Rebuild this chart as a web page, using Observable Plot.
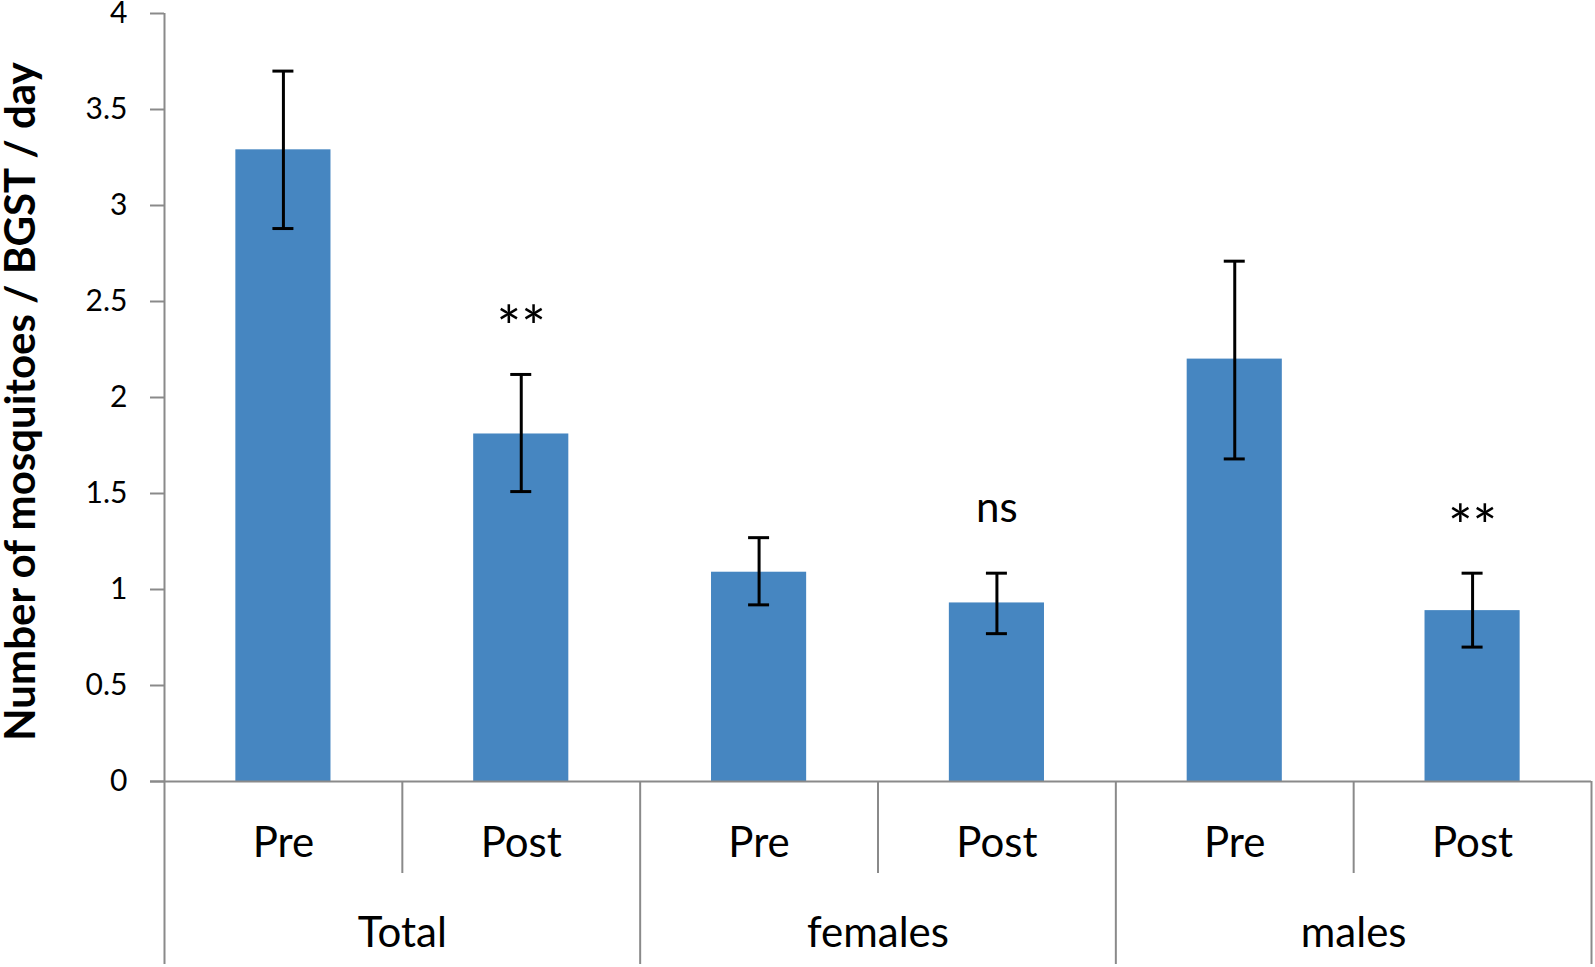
<!DOCTYPE html>
<html>
<head>
<meta charset="utf-8">
<script src="https://cdn.jsdelivr.net/npm/d3@7"></script>
<script src="https://cdn.jsdelivr.net/npm/@observablehq/plot@0.6"></script>
<style>
  html, body { margin: 0; padding: 0; background: #ffffff; }
  #chart svg { display: block; }
</style>
</head>
<body>
<div id="chart"></div>
<script>
// ---- Data ----
const groups  = ["Total", "Total", "females", "females", "males", "males"];
const periods = ["Pre", "Post", "Pre", "Post", "Pre", "Post"];
const means   = [3.29, 1.81, 1.09, 0.93, 2.20, 0.89];
const upper   = [3.70, 2.12, 1.27, 1.085, 2.71, 1.085];
const lower   = [2.88, 1.51, 0.92, 0.77, 1.68, 0.70];
const signif  = ["", "**", "", "ns", "", "**"];
const yTicks  = [0, 0.5, 1, 1.5, 2, 2.5, 3, 3.5, 4];
const yTitle  = "Number of mosquitoes / BGST / day";

const data = groups.map((g, i) => ({
  key: g + "|" + periods[i],
  group: g,
  period: periods[i],
  mean: means[i],
  upper: upper[i],
  lower: lower[i],
  sig: signif[i]
}));

// ---- Layout ----
const W = 1595, H = 967;
const mL = 164, mR = 4, mT = 13, mB = 186;
const step = (W - mL - mR) / data.length;
const bandwidth = step * 0.4;
const capInset = (bandwidth - 21) / 2;
const gray = "#8a8a8a";
const barColor = "#4686c1";

const chart = Plot.plot({
  width: W,
  height: H,
  marginLeft: mL,
  marginRight: mR,
  marginTop: mT,
  marginBottom: mB,
  style: { fontFamily: "Lato, 'Open Sans', sans-serif", background: "#ffffff", color: "#000000", overflow: "visible" },
  x: { domain: data.map(d => d.key), paddingInner: 0.6, paddingOuter: 0.3, round: false, axis: null },
  y: { domain: [0, 4] },
  marks: [
    Plot.barY(data, { x: "key", y: "mean", fill: barColor }),
    // horizontal axis line
    Plot.ruleY([0], { stroke: gray, strokeWidth: 2, insetLeft: -14 }),
    // y axis ticks and labels
    Plot.axisY({
      ticks: yTicks,
      tickFormat: d => String(d),
      tickSize: 14,
      tickPadding: 23,
      stroke: gray,
      strokeWidth: 2,
      fill: "#000000",
      fontSize: 30,
      label: null
    }),
    // vertical axis line (extends to the bottom of the category table)
    Plot.ruleX(data.slice(0, 1), { x: "key", y1: 4, y2: 0, dx: -step / 2, insetBottom: -183, stroke: gray, strokeWidth: 2 }),
    // separators between Pre and Post
    Plot.ruleX(data.filter(d => d.period === "Post"), { x: "key", y1: 0, y2: 0, dx: -step / 2, insetBottom: -92, stroke: gray, strokeWidth: 2 }),
    // separators between groups
    Plot.ruleX(data.filter((d, i) => d.period === "Pre" && i > 0), { x: "key", y1: 0, y2: 0, dx: -step / 2, insetBottom: -183, stroke: gray, strokeWidth: 2 }),
    // right edge
    Plot.ruleX(data.slice(-1), { x: "key", y1: 0, y2: 0, dx: step / 2, insetBottom: -183, stroke: gray, strokeWidth: 2 }),
    // error bars
    Plot.ruleX(data, { x: "key", y1: "lower", y2: "upper", stroke: "#000000", strokeWidth: 3 }),
    Plot.tickY(data, { x: "key", y: "upper", insetLeft: capInset, insetRight: capInset, stroke: "#000000", strokeWidth: 3 }),
    Plot.tickY(data, { x: "key", y: "lower", insetLeft: capInset, insetRight: capInset, stroke: "#000000", strokeWidth: 3 }),
    // significance annotations
    Plot.text(data.filter(d => d.sig === "**"), { x: "key", y: "upper", text: "sig", dy: -45, fontSize: 58, lineAnchor: "middle", fill: "#000000" }),
    Plot.text(data.filter(d => d.sig === "ns"), { x: "key", y: "upper", text: "sig", dy: -65, fontSize: 42, lineAnchor: "middle", fill: "#000000" }),
    // category labels
    Plot.text(data, { x: "key", text: "period", frameAnchor: "bottom", dy: 62, fontSize: 42, lineAnchor: "middle", fill: "#000000" }),
    // group labels
    Plot.text(data.filter(d => d.period === "Pre"), { x: "key", text: "group", frameAnchor: "bottom", dx: step / 2, dy: 152, fontSize: 42, lineAnchor: "middle", fill: "#000000" }),
    // y-axis title
    Plot.text([yTitle], { text: d => d, frameAnchor: "left", textAnchor: "middle", dx: -143, dy: 4, rotate: -90, fontSize: 42, fontWeight: "bold", lineAnchor: "middle", fill: "#000000" })
  ]
});

document.getElementById("chart").appendChild(chart);
</script>
</body>
</html>
